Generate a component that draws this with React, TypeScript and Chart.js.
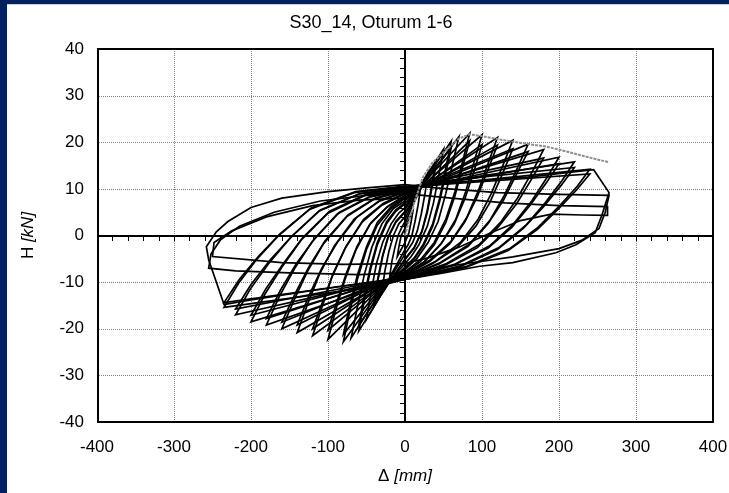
import React, { useEffect, useRef } from 'react';
import { Chart, registerables } from 'chart.js';

Chart.register(...registerables);

const W = 729;
const H = 493;
const NAVY = '#03215f';
const FONT = '"Liberation Sans", Arial, sans-serif';

const chartTitle = 'S30_14, Oturum 1-6';
const xTitleMain = 'Δ ';
const xTitleUnit = '[mm]';
const yTitleMain = 'H ';
const yTitleUnit = '[kN]';

const xTickValues = [-400, -300, -200, -100, 0, 100, 200, 300, 400];
const yTickValues = [-40, -30, -20, -10, 0, 10, 20, 30, 40];

// monotonic push curve (grey)
const pushCurve: number[][] = [[0, 0], [5, 3], [12, 7], [23, 12.4], [35, 15.5], [54, 18.4], [70, 20.8], [84, 21.7], [100, 21.3], [130, 20.4], [160, 19.6], [183, 19.1], [210, 18], [240, 16.7], [265, 15.7]];

// hysteresis cycles (displacement mm, force kN)
const loop10 = [[0, 1.5], [5, 3.5], [10, 5], [8, 3], [5, 0.5], [0, -1.5], [-5, -3], [-10, -4.5], [-8, -2.5], [-5, 0], [0, 1.5]];
const loop20 = [[0, 2.5], [10, 6.5], [20, 10], [17, 6.5], [13, 3], [9, 0], [4, -2], [0, -3], [-10, -6], [-20, -9], [-17, -5.5], [-13, -2.5], [-9, 0], [-4, 1.8], [0, 3]];
const loop30 = [[0, 3.5], [15, 8.8], [30, 13.5], [26, 9], [21, 4.5], [16, 1], [10, -1.5], [0, -4], [-15, -8], [-30, -12], [-26, -7.5], [-21, -3.5], [-15, 0], [-8, 2.5], [0, 4]];
const loop40 = [[0, 4.5], [20, 10.5], [40, 16], [35, 11], [29, 5.5], [22, 1], [12, -2.5], [0, -5], [-20, -10], [-40, -15], [-35, -9.5], [-29, -4.5], [-22, -0.5], [-12, 2.8], [0, 5]];
const loop40b = [[0, 4.8], [20, 10.2], [40, 14.8], [35, 10.2], [29, 5], [22, 0.8], [12, -2.7], [0, -5.2], [-20, -9.8], [-40, -14], [-35, -9], [-29, -4.2], [-22, -0.3], [-12, 3], [0, 5.2]];
const loop50 = [[0, 5.5], [20, 10.8], [50, 18.5], [44, 13], [37, 7], [29, 2], [18, -2], [8, -4.5], [0, -6], [-22, -10.2], [-50, -18], [-44, -12], [-37, -6], [-29, -1.5], [-18, 2.5], [-8, 4.8], [0, 6]];
const loop60 = [[0, 6], [22, 11], [60, 20.2], [53, 14.5], [45, 8], [36, 2.5], [24, -1.8], [12, -4.8], [0, -6.8], [-22, -10.3], [-60, -20.5], [-53, -14], [-45, -7.5], [-36, -2], [-24, 2.5], [-12, 5.2], [0, 6.8]];
const loop60b = [[0, 6.2], [22, 10.6], [60, 18.8], [53, 13.4], [45, 7.3], [36, 2], [24, -2.2], [12, -5], [0, -7], [-22, -10], [-60, -19.2], [-53, -13], [-45, -6.8], [-36, -1.5], [-24, 2.9], [-12, 5.5], [0, 7]];
const loop70 = [[0, 6.8], [22, 10.8], [70, 21.2], [62, 15.5], [53, 9], [43, 3], [30, -1.5], [15, -5], [0, -7.3], [-24, -10.2], [-70, -22], [-62, -15.5], [-53, -8.5], [-43, -2.5], [-30, 2.5], [-15, 5.8], [0, 7.4]];
const loop84 = [[0, 7.4], [18, 10.2], [84, 21.9], [75, 16], [65, 9.5], [53, 3.5], [38, -1.5], [20, -5.2], [0, -7.8], [-25, -10.1], [-80, -22.8], [-72, -16.5], [-62, -9.5], [-50, -3], [-36, 2.2], [-18, 5.8], [0, 8]];
const loop84b = [[0, 7.6], [22, 10.4], [84, 20.3], [75, 14.8], [65, 8.6], [53, 2.8], [38, -2], [20, -5.6], [0, -8], [-25, -9.9], [-80, -21.2], [-72, -15.2], [-62, -8.6], [-50, -2.4], [-36, 2.8], [-18, 6.2], [0, 8.2]];
const loop100 = [[0, 8], [22, 10.6], [100, 21.6], [90, 16], [79, 9.5], [66, 3.5], [48, -1.5], [26, -5.5], [0, -8.3], [-25, -10], [-100, -22.3], [-90, -16], [-78, -9.5], [-64, -3.2], [-46, 2.3], [-24, 6], [0, 8.5]];
const loop100b = [[0, 8.2], [28, 11], [100, 19.5], [90, 14], [78, 8], [64, 2.5], [46, -2], [24, -5.8], [0, -8.2], [-30, -10.6], [-100, -20.3], [-89, -14.5], [-76, -8], [-62, -2.2], [-44, 2.8], [-22, 6.3], [0, 8.6]];
const loop120 = [[0, 8.6], [16, 9.8], [120, 21], [108, 15.5], [95, 9.5], [80, 3.8], [60, -1.2], [33, -5.2], [0, -8.5], [-25, -9.9], [-120, -21.5], [-108, -15.5], [-95, -9], [-78, -2.8], [-56, 2.8], [-30, 6.5], [0, 8.9]];
const loop120b = [[0, 8.8], [22, 10.3], [120, 19.4], [108, 14.2], [94, 8.4], [78, 3], [58, -1.8], [32, -5.6], [0, -8.6], [-25, -9.7], [-120, -20], [-107, -14.2], [-93, -8], [-76, -2.2], [-54, 3.4], [-28, 6.9], [0, 9.1]];
const loop140 = [[0, 8.9], [23, 10.5], [140, 20.4], [127, 15], [112, 9], [95, 3.5], [72, -1.5], [40, -5.5], [0, -8.8], [-20, -9.4], [-140, -20.8], [-126, -14.5], [-111, -8.3], [-92, -2.3], [-66, 3.5], [-34, 7.3], [0, 9.3]];
const loop140b = [[0, 9.1], [30, 11.2], [140, 18.6], [126, 13], [110, 7], [92, 2], [68, -2.5], [36, -6], [0, -8.9], [-25, -9.7], [-140, -19.2], [-125, -13], [-108, -7], [-88, -1.5], [-62, 4], [-32, 7.6], [0, 9.4]];
const loop160 = [[0, 9.3], [20, 10.2], [160, 19.6], [146, 14.5], [129, 8.6], [110, 3.2], [84, -1.8], [46, -5.8], [0, -9], [-25, -9.8], [-160, -20], [-144, -13.8], [-127, -7.8], [-106, -1.8], [-76, 4], [-40, 7.8], [0, 9.6]];
const loop160b = [[0, 9.4], [23, 10.4], [160, 18], [145, 13.2], [128, 7.6], [108, 2.6], [82, -2.3], [44, -6.1], [0, -9], [-25, -9.6], [-160, -18.6], [-143, -12.6], [-125, -6.8], [-104, -1.2], [-74, 4.4], [-38, 8.1], [0, 9.7]];
const loop180 = [[0, 9.6], [24, 10.7], [180, 18.4], [165, 13.6], [146, 8], [124, 2.8], [96, -2], [54, -6], [0, -9.2], [-32, -10.6], [-180, -19.2], [-163, -13], [-143, -7], [-120, -1.2], [-88, 4.6], [-46, 8.2], [0, 9.8]];
const loop180b = [[0, 9.5], [32, 11.3], [180, 16.6], [164, 12], [145, 6.8], [122, 2], [94, -2.6], [52, -6.4], [0, -9.2], [-26, -9.6], [-180, -17.8], [-162, -11.8], [-141, -6], [-117, -0.6], [-85, 5], [-44, 8.5], [0, 10]];
const loop200 = [[0, 9.8], [18, 10.3], [200, 16.8], [185, 12.6], [165, 7.5], [141, 2.5], [110, -2.2], [64, -6.2], [0, -9.3], [-26, -9.8], [-200, -18.5], [-182, -12.6], [-160, -6.8], [-135, -1], [-100, 4.8], [-52, 8.6], [0, 10]];
const loop200b = [[0, 9.9], [25, 10.5], [200, 15.4], [184, 11.4], [163, 6.6], [139, 1.8], [108, -2.7], [62, -6.5], [0, -9.3], [-20, -9.3], [-200, -17.1], [-181, -11.5], [-158, -6], [-133, -0.5], [-98, 5.2], [-50, 8.9], [0, 10.2]];
const loop220 = [[0, 10], [25, 10.9], [220, 15.8], [204, 11.8], [182, 7], [157, 2.2], [122, -2.6], [72, -6.5], [0, -9.4], [-27, -9.8], [-220, -17], [-201, -11.5], [-177, -6], [-149, -0.5], [-112, 5.2], [-60, 8.9], [0, 10.2]];
const loop220b = [[0, 10.1], [34, 11.4], [220, 14.6], [203, 10.8], [180, 6.2], [154, 1.6], [120, -3], [70, -6.8], [0, -9.3], [-27, -9.6], [-220, -15.8], [-200, -10.5], [-175, -5.2], [-146, 0], [-110, 5.5], [-58, 9], [0, 10.4]];
const loop240 = [[0, 10.2], [22, 10.6], [240, 14.2], [224, 10.6], [201, 6.4], [173, 1.8], [136, -2.8], [80, -6.6], [0, -9.4], [-34, -10.8], [-235, -15.4], [-216, -10.2], [-192, -5], [-164, 0], [-124, 5.6], [-66, 9.2], [0, 10.5]];
const loop240b = [[0, 10.3], [26, 10.7], [240, 13.2], [223, 9.8], [200, 5.8], [172, 1.3], [134, -3.2], [78, -6.9], [0, -9.4], [-28, -9.6], [-235, -14.4], [-215, -9.4], [-190, -4.4], [-162, 0.4], [-122, 5.9], [-64, 9.4], [0, 10.6]];
const loop265a = [[0, 10.5], [30, 11], [100, 11.8], [160, 12.5], [210, 13.5], [245, 14.1], [265, 9.2], [256, 4.5], [247, 0.6], [222, -2], [196, -3.7], [140, -5.8], [97, -6.6], [50, -8], [0, -9.4], [-30, -9.7], [-120, -11.8], [-200, -13.8], [-235, -14.8], [-255, -5.2], [-258, -2.4], [-245, 0.8], [-230, 3], [-200, 6], [-160, 8], [-100, 9.4], [-50, 10.2], [0, 10.9]];
const loop265b = [[0, 10.9], [40, 10.2], [120, 9.2], [200, 8.8], [265, 8.6], [260, 5], [252, 1.5], [230, -1], [200, -2.8], [140, -4.6], [80, -6], [0, -8], [-60, -8.4], [-150, -8], [-220, -7.6], [-255, -7], [-252, -4], [-240, -1], [-215, 2], [-170, 5], [-110, 7.4], [-50, 8.6], [0, 9]];
const loop265c = [[0, 9], [60, 8], [130, 7], [200, 6.4], [263, 6.2], [263, 4.3], [230, 4.4], [190, 4.6], [150, 3.2], [110, 0.5], [70, -2.5], [30, -4.8], [0, -6], [-80, -6.2], [-160, -5.8], [-250, -4.5], [-248, -1.5], [-225, 1], [-180, 4], [-120, 6.4], [-60, 7.6], [0, 8]];

const cycles = [loop10, loop20, loop30, loop40, loop40b, loop50, loop60, loop60b, loop70, loop84, loop84b, loop100, loop100b, loop120, loop120b, loop140, loop140b, loop160, loop160b, loop180, loop180b, loop200, loop200b, loop220, loop220b, loop240, loop240b, loop265a, loop265b, loop265c];

const toPts = (arr: number[][]) => arr.map(([x, y]) => ({ x, y }));

const decor = {
  id: 'decor',
  beforeDraw(chart: any) {
    const ctx = chart.ctx as CanvasRenderingContext2D;
    const { left, right, top, bottom } = chart.chartArea;
    const xs = chart.scales.x;
    const ys = chart.scales.y;
    ctx.save();
    ctx.fillStyle = '#ffffff';
    ctx.fillRect(0, 0, W, H);
    ctx.fillStyle = NAVY;
    ctx.fillRect(0, 0, W, 4);
    ctx.fillRect(0, 0, 7, H);
    ctx.fillStyle = '#c8cedb';
    ctx.fillRect(7, 4, W - 7, 1);

    // grid
    ctx.strokeStyle = '#808080';
    ctx.lineWidth = 1;
    ctx.setLineDash([1, 1]);
    for (const v of xTickValues) {
      const px = Math.round(xs.getPixelForValue(v)) + 0.5;
      ctx.beginPath();
      ctx.moveTo(px, top);
      ctx.lineTo(px, bottom);
      ctx.stroke();
    }
    for (const v of yTickValues) {
      const py = Math.round(ys.getPixelForValue(v)) + 0.5;
      ctx.beginPath();
      ctx.moveTo(left, py);
      ctx.lineTo(right, py);
      ctx.stroke();
    }
    ctx.setLineDash([]);

    // zero axes with minor ticks
    const x0 = Math.round(xs.getPixelForValue(0));
    const y0 = Math.round(ys.getPixelForValue(0));
    ctx.strokeStyle = '#000';
    ctx.lineWidth = 2;
    ctx.beginPath();
    ctx.moveTo(left, y0);
    ctx.lineTo(right, y0);
    ctx.moveTo(x0, top);
    ctx.lineTo(x0, bottom);
    ctx.stroke();
    ctx.lineWidth = 1;
    ctx.beginPath();
    for (let v = -400; v <= 400; v += 20) {
      const px = Math.round(xs.getPixelForValue(v)) + 0.5;
      ctx.moveTo(px, y0);
      ctx.lineTo(px, y0 + 5);
    }
    for (let v = -40; v <= 40; v += 2) {
      const py = Math.round(ys.getPixelForValue(v)) + 0.5;
      ctx.moveTo(x0, py);
      ctx.lineTo(x0 - 5, py);
    }
    ctx.stroke();
    ctx.restore();
  },
  afterDraw(chart: any) {
    const ctx = chart.ctx as CanvasRenderingContext2D;
    const { left, right, top, bottom } = chart.chartArea;
    const xs = chart.scales.x;
    const ys = chart.scales.y;
    ctx.save();
    // frame
    ctx.strokeStyle = '#000';
    ctx.lineWidth = 2;
    ctx.strokeRect(left + 1, top, right - left - 1, bottom - top);

    ctx.fillStyle = '#000';
    // title
    ctx.font = `18px ${FONT}`;
    ctx.textAlign = 'center';
    ctx.textBaseline = 'middle';
    ctx.fillText(chartTitle, 371, 23);

    // tick labels
    ctx.font = `17px ${FONT}`;
    for (const v of xTickValues) {
      ctx.textAlign = 'center';
      ctx.fillText(String(v), xs.getPixelForValue(v), 447);
    }
    for (const v of yTickValues) {
      ctx.textAlign = 'right';
      ctx.fillText(String(v), 84, ys.getPixelForValue(v));
    }

    // x title
    const fN = `17px ${FONT}`;
    const fI = `italic 17px ${FONT}`;
    ctx.font = fN;
    const wa = ctx.measureText(xTitleMain).width;
    ctx.font = fI;
    const wb = ctx.measureText(xTitleUnit).width;
    const cx = (left + right) / 2;
    const sx = cx - (wa + wb) / 2;
    ctx.textAlign = 'left';
    ctx.font = fN;
    ctx.fillText(xTitleMain, sx, 476);
    ctx.font = fI;
    ctx.fillText(xTitleUnit, sx + wa, 476);

    // y title (rotated)
    ctx.font = fN;
    const ya = ctx.measureText(yTitleMain).width;
    ctx.font = fI;
    const yb = ctx.measureText(yTitleUnit).width;
    ctx.translate(28, (top + bottom) / 2);
    ctx.rotate(-Math.PI / 2);
    const sy = -(ya + yb) / 2;
    ctx.font = fN;
    ctx.fillText(yTitleMain, sy, 0);
    ctx.font = fI;
    ctx.fillText(yTitleUnit, sy + ya, 0);
    ctx.restore();
  },
};

export default function App() {
  const ref = useRef<HTMLCanvasElement>(null);
  useEffect(() => {
    const canvas = ref.current;
    if (!canvas) return;
    const datasets: any[] = [
      {
        data: toPts(pushCurve),
        borderColor: '#8f8f8f',
        borderWidth: 2,
        borderDash: [3, 1],
        showLine: true,
        pointRadius: 0,
        tension: 0,
      },
      ...cycles.map((c) => ({
        data: toPts(c),
        borderColor: '#000000',
        borderWidth: 1.7,
        showLine: true,
        pointRadius: 0,
        tension: 0,
      })),
    ];
    const chart = new Chart(canvas, {
      type: 'scatter',
      data: { datasets },
      options: {
        responsive: false,
        animation: false,
        devicePixelRatio: 1,
        layout: { padding: { left: 97, right: 16, top: 49, bottom: 71 } },
        scales: {
          x: { type: 'linear', min: -400, max: 400, display: false },
          y: { type: 'linear', min: -40, max: 40, display: false },
        },
        plugins: {
          legend: { display: false },
          tooltip: { enabled: false },
          title: { display: false },
        },
        elements: { point: { radius: 0 } },
      },
      plugins: [decor],
    } as any);
    return () => chart.destroy();
  }, []);
  return (
    <div style={{ position: 'fixed', left: 0, top: 0, width: W, height: H, background: '#fff' }}>
      <canvas ref={ref} width={W} height={H} style={{ display: 'block', width: W, height: H }} />
    </div>
  );
}
